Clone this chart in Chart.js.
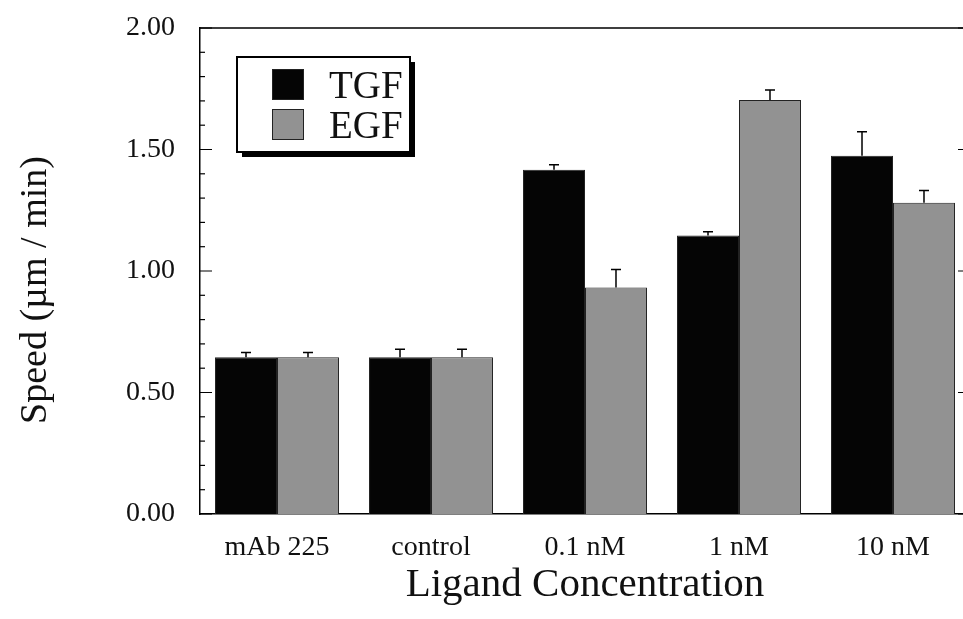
<!DOCTYPE html>
<html>
<head>
<meta charset="utf-8">
<script src="https://cdn.jsdelivr.net/npm/chart.js@4/dist/chart.umd.min.js"></script>
<style>
html,body{margin:0;padding:0;background:#fff;overflow:hidden;}
#wrap{width:963px;height:619px;overflow:hidden;}
</style>
</head>
<body>
<div id="wrap"><canvas id="speedChart" width="972" height="619"></canvas></div>
<script>
const categories = ["mAb 225", "control", "0.1 nM", "1 nM", "10 nM"];
const tgf = [0.645, 0.645, 1.417, 1.146, 1.474];
const egf = [0.645, 0.645, 0.932, 1.704, 1.281];
const tgfErr = [0.02, 0.033, 0.02, 0.016, 0.099];
const egfErr = [0.02, 0.033, 0.074, 0.041, 0.05];
const yMajor = [0, 0.5, 1.0, 1.5, 2.0];

const serif = "'Liberation Serif', 'Times New Roman', serif";

// error bars, only the upper half like the original
const errorBars = {
id: "errorBars",
afterDatasetsDraw(chart){
const ctx = chart.ctx;
const y = chart.scales.y;
const errs = [tgfErr, egfErr];
ctx.save();
ctx.strokeStyle = "#000";
ctx.lineWidth = 1.5;
chart.data.datasets.forEach((ds, d) => {
const meta = chart.getDatasetMeta(d);
meta.data.forEach((bar, i) => {
const top = y.getPixelForValue(ds.data[i]);
const tip = y.getPixelForValue(ds.data[i] + errs[d][i]);
ctx.beginPath();
ctx.moveTo(bar.x, top);
ctx.lineTo(bar.x, tip);
ctx.moveTo(bar.x - 5, tip);
ctx.lineTo(bar.x + 5, tip);
ctx.stroke();
});
});
ctx.restore();
}
};

// frame: top line, inward ticks left and right, y title, legend box
const frame = {
id: "frame",
afterDraw(chart){
const ctx = chart.ctx;
const a = chart.chartArea;
const y = chart.scales.y;
ctx.save();
ctx.strokeStyle = "#000";
ctx.lineWidth = 1.5;
ctx.beginPath();
ctx.moveTo(a.left, a.top);
ctx.lineTo(a.right, a.top);
ctx.lineTo(a.right, a.bottom);
ctx.stroke();

ctx.lineWidth = 1.2;
for(let k = 0; k <= 20; k++){
const v = k / 10;
const py = y.getPixelForValue(v);
const major = yMajor.some(m => Math.abs(m - v) < 1e-6);
ctx.beginPath();
ctx.moveTo(a.left, py);
ctx.lineTo(a.left + (major ? 12 : 5), py);
if(major){
ctx.moveTo(a.right, py);
ctx.lineTo(a.right - 12, py);
}
ctx.stroke();
}

// y title
ctx.fillStyle = "#111";
ctx.font = "38px " + serif;
ctx.textAlign = "center";
ctx.textBaseline = "middle";
ctx.translate(36, 290);
ctx.rotate(-Math.PI / 2);
ctx.fillText("Speed (\u00b5m / min)", 0, 0);
ctx.restore();

// legend
ctx.save();
const bx = 237, by = 57, bw = 173, bh = 95;
ctx.fillStyle = "#000";
ctx.fillRect(bx + 5, by + 5, bw, bh);
ctx.fillStyle = "#fff";
ctx.fillRect(bx, by, bw, bh);
ctx.strokeStyle = "#000";
ctx.lineWidth = 2;
ctx.strokeRect(bx, by, bw, bh);
ctx.font = "39px " + serif;
ctx.textBaseline = "alphabetic";
ctx.textAlign = "left";
chart.data.datasets.forEach((ds, d) => {
const sy = by + 12 + d * 40;
ctx.fillStyle = ds.backgroundColor;
ctx.fillRect(272, sy, 32, 31);
ctx.lineWidth = 1;
ctx.strokeStyle = "#222";
ctx.strokeRect(272.5, sy + 0.5, 31, 30);
ctx.fillStyle = "#111";
ctx.fillText(ds.label, 329, sy + 29);
});
ctx.restore();
}
};

new Chart(document.getElementById("speedChart"), {
type: "bar",
data: {
labels: categories,
datasets: [
{label: "TGF", data: tgf, backgroundColor: "#050505", borderColor: "#222", borderWidth: 1},
{label: "EGF", data: egf, backgroundColor: "#929292", borderColor: "#222", borderWidth: 1}
]
},
options: {
responsive: false,
devicePixelRatio: 1,
animation: false,
layout: {padding: {left: 0, top: 28, right: 2, bottom: 0}},
datasets: {bar: {categoryPercentage: 0.805, barPercentage: 1.0}},
plugins: {legend: {display: false}, tooltip: {enabled: false}},
scales: {
x: {
grid: {display: false},
border: {display: true, color: "#000", width: 1.5},
ticks: {color: "#111", font: {family: serif, size: 28}, padding: 9, maxRotation: 0},
title: {display: true, text: "Ligand Concentration", color: "#111", font: {family: serif, size: 41}, padding: {top: 0, bottom: 9}},
afterFit(s){ s.height = 105; s.paddingLeft = 0; s.paddingRight = 0; }
},
y: {
min: 0,
max: 2,
grid: {display: false},
border: {display: true, color: "#000", width: 1.5},
ticks: {
stepSize: 0.1,
autoSkip: false,
color: "#111",
font: {family: serif, size: 28},
padding: 17,
callback: v => yMajor.some(m => Math.abs(m - v) < 1e-6) ? Number(v).toFixed(2) : ""
},
afterFit(s){ s.width = 200; s.paddingTop = 0; s.paddingBottom = 0; }
}
}
},
plugins: [errorBars, frame]
});
</script>
</body>
</html>
